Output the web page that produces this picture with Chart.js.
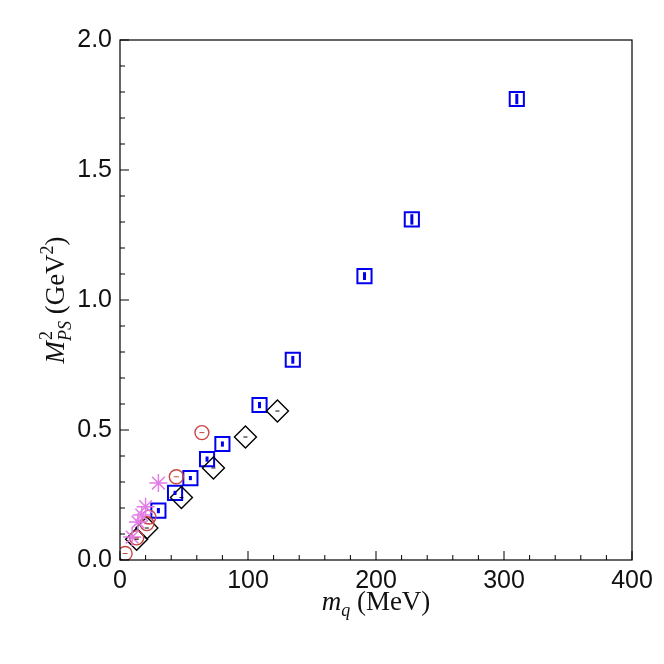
<!DOCTYPE html>
<html><head><meta charset="utf-8">
<script src="https://cdn.jsdelivr.net/npm/chart.js@4/dist/chart.umd.min.js"></script>
<style>html,body{margin:0;background:#fff}#c{width:664px;height:664px}</style>
</head><body><div id="c"><canvas id="chart" width="664" height="664"></canvas></div>
<script>
// data: mq in MeV, M_PS^2 in GeV^2
var squareX = [30, 43, 55, 68, 80, 109, 135, 191, 228, 310];
var squareY = [0.19, 0.258, 0.315, 0.388, 0.446, 0.596, 0.77, 1.092, 1.31, 1.773];
var squareErr = [0.01, 0.008, 0.008, 0.01, 0.01, 0.012, 0.015, 0.015, 0.02, 0.02];
var diamondX = [13, 21, 48, 73, 98, 123];
var diamondY = [0.08, 0.123, 0.24, 0.354, 0.473, 0.573];
var circleX = [4, 13, 21, 22.6, 44, 64];
var circleY = [0.025, 0.085, 0.14, 0.165, 0.32, 0.49];
var starX = [9.5, 14, 17, 20, 30];
var starY = [0.088, 0.146, 0.173, 0.205, 0.296];
var xTicks = [0, 100, 200, 300, 400];
var yTicks = [0, 0.5, 1.0, 1.5, 2.0];

function pts(xs, ys) { return xs.map(function (x, i) { return {x: x, y: ys[i]}; }); }

var decor = {
  id: 'decor',
  afterDatasetsDraw: function (chart) {
    var ctx = chart.ctx, a = chart.chartArea, sx = chart.scales.x, sy = chart.scales.y;
    ctx.save();
    // error bars in the squares
    ctx.strokeStyle = '#0000ee'; ctx.lineWidth = 3;
    squareX.forEach(function (x, i) {
      ctx.beginPath();
      ctx.moveTo(sx.getPixelForValue(x), sy.getPixelForValue(squareY[i] - squareErr[i]));
      ctx.lineTo(sx.getPixelForValue(x), sy.getPixelForValue(squareY[i] + squareErr[i]));
      ctx.stroke();
    });
    // small dashes in diamonds and circles
    ctx.lineWidth = 1;
    ctx.strokeStyle = '#000';
    diamondX.forEach(function (x, i) {
      var px = sx.getPixelForValue(x), py = sy.getPixelForValue(diamondY[i]);
      ctx.beginPath(); ctx.moveTo(px - 2, py); ctx.lineTo(px + 2, py); ctx.stroke();
    });
    ctx.strokeStyle = '#cc4444';
    circleX.forEach(function (x, i) {
      var px = sx.getPixelForValue(x), py = sy.getPixelForValue(circleY[i]);
      ctx.beginPath(); ctx.moveTo(px - 2.5, py); ctx.lineTo(px + 2.5, py); ctx.stroke();
    });
    // frame and inward ticks
    ctx.strokeStyle = '#000'; ctx.lineWidth = 1.2;
    ctx.strokeRect(a.left, a.top, a.right - a.left, a.bottom - a.top);
    ctx.lineWidth = 1;
    for (var v = 0; v <= 400; v += 20) {
      var px = sx.getPixelForValue(v), len = v % 100 === 0 ? 9 : 5;
      ctx.beginPath(); ctx.moveTo(px, a.bottom); ctx.lineTo(px, a.bottom - len); ctx.stroke();
    }
    for (var k = 0; k <= 20; k++) {
      var py = sy.getPixelForValue(k / 10), l2 = k % 5 === 0 ? 9 : 5;
      ctx.beginPath(); ctx.moveTo(a.left, py); ctx.lineTo(a.left + l2, py); ctx.stroke();
    }
    // axis titles
    ctx.fillStyle = '#111';
    var cx = (a.left + a.right) / 2;
    ctx.textBaseline = 'alphabetic';
    ctx.font = 'italic 27px "Liberation Serif"';
    var t1 = 'm', w1 = ctx.measureText(t1).width;
    ctx.font = 'italic 18px "Liberation Serif"';
    var w2 = ctx.measureText('q').width;
    ctx.font = '27px "Liberation Serif"';
    var t3 = ' (MeV)', w3 = ctx.measureText(t3).width;
    var x0 = cx - (w1 + w2 + w3) / 2, by = 610;
    ctx.font = 'italic 27px "Liberation Serif"'; ctx.fillText(t1, x0, by);
    ctx.font = 'italic 18px "Liberation Serif"'; ctx.fillText('q', x0 + w1, by + 6);
    ctx.font = '27px "Liberation Serif"'; ctx.fillText(t3, x0 + w1 + w2, by);

    ctx.translate(64, (a.top + a.bottom) / 2);
    ctx.rotate(-Math.PI / 2);
    ctx.font = 'italic 27px "Liberation Serif"';
    var m = ctx.measureText('M').width;
    ctx.font = 'italic 18px "Liberation Serif"';
    var ps = ctx.measureText('PS').width;
    ctx.font = '27px "Liberation Serif"';
    var g = ctx.measureText(' (GeV').width, g2 = ctx.measureText(')').width;
    ctx.font = '18px "Liberation Serif"';
    var two = ctx.measureText('2').width;
    var tot = m + ps + g + two + g2, x1 = -tot / 2;
    ctx.font = 'italic 27px "Liberation Serif"'; ctx.fillText('M', x1, 0);
    ctx.font = '18px "Liberation Serif"'; ctx.fillText('2', x1 + m + 1, -12);
    ctx.font = 'italic 18px "Liberation Serif"'; ctx.fillText('PS', x1 + m, 7);
    ctx.font = '27px "Liberation Serif"'; ctx.fillText(' (GeV', x1 + m + ps, 0);
    ctx.font = '18px "Liberation Serif"'; ctx.fillText('2', x1 + m + ps + g, -11);
    ctx.font = '27px "Liberation Serif"'; ctx.fillText(')', x1 + m + ps + g + two, 0);
    ctx.restore();
  }
};

new Chart(document.getElementById('chart').getContext('2d'), {
  type: 'scatter',
  data: {
    datasets: [
      {data: pts(starX, starY), pointStyle: 'star', radius: 9, borderColor: '#e27ce6', borderWidth: 1.5, backgroundColor: 'transparent'},
      {data: pts(circleX, circleY), pointStyle: 'circle', radius: 7, borderColor: '#cc4444', borderWidth: 1.4, backgroundColor: 'transparent'},
      {data: pts(diamondX, diamondY), pointStyle: 'rectRot', radius: 11, borderColor: '#000', borderWidth: 1.4, backgroundColor: 'transparent'},
      {data: pts(squareX, squareY), pointStyle: 'rect', radius: 10, borderColor: '#0000ee', borderWidth: 2, backgroundColor: 'transparent'}
    ]
  },
  options: {
    responsive: false, animation: false,
    layout: {padding: {left: 10, right: 32, top: 40, bottom: 10}},
    plugins: {legend: {display: false}, tooltip: {enabled: false}},
    scales: {
      x: {min: 0, max: 400, afterBuildTicks: function (s) { s.ticks = xTicks.map(function (v) { return {value: v}; }); },
        grid: {display: false, drawTicks: false}, border: {display: false},
        ticks: {padding: 6, color: '#111', font: {family: 'Liberation Sans', size: 25}, maxRotation: 0},
        afterFit: function (s) { s.height = 94; }},
      y: {min: 0, max: 2, afterBuildTicks: function (s) { s.ticks = yTicks.map(function (v) { return {value: v}; }); },
        grid: {display: false, drawTicks: false}, border: {display: false},
        ticks: {padding: 8, color: '#111', font: {family: 'Liberation Sans', size: 25}, callback: function (v) { return v.toFixed(1); }},
        afterFit: function (s) { s.width = 110; }}
    }
  },
  plugins: [decor]
});
</script></body></html>
